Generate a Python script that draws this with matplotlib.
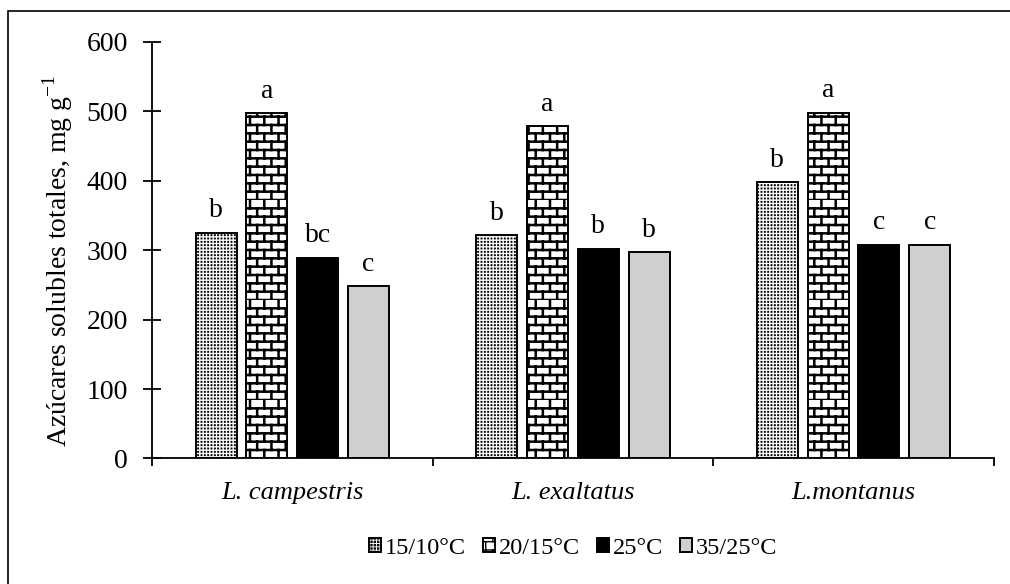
import warnings
import numpy as np
import matplotlib
matplotlib.use("Agg")
import matplotlib.pyplot as plt
import matplotlib.hatch as mhatch
from matplotlib.path import Path
from matplotlib.patches import Rectangle

warnings.filterwarnings("ignore")

# data
species = ["L. campestris", "L. exaltatus", "L.montanus"]
treatments = ["15/10°C", "20/15°C", "25°C", "35/25°C"]
t_15_10 = [325, 322, 398]
t_20_15 = [497, 478, 498]
t_25 = [289, 302, 308]
t_35_25 = [248, 297, 308]
letters_15_10 = ["b", "b", "b"]
letters_20_15 = ["a", "a", "a"]
letters_25 = ["bc", "b", "c"]
letters_35_25 = ["c", "b", "c"]


class BrickHatch(mhatch.HatchPatternBase):
    """Brick wall pattern, triggered by 'B' in the hatch string"""
    rows = 12
    cols = 7

    def __init__(self, hatch, density):
        self.on = hatch.count("B") > 0
        if self.on:
            self.num_lines = self.rows + self.rows * self.cols
        else:
            self.num_lines = 0
        self.num_vertices = self.num_lines * 2

    def set_vertices_and_codes(self, vertices, codes):
        k = 0
        for i in range(self.rows):
            y0 = i / self.rows
            y1 = (i + 1) / self.rows
            vertices[k] = (0.0, y0)
            vertices[k + 1] = (1.0, y0)
            k += 2
            shift = 0.5 * (i % 2)
            for j in range(self.cols):
                x = (j + shift) / self.cols
                vertices[k] = (x, y0)
                vertices[k + 1] = (x, y1)
                k += 2
        codes[0::2] = Path.MOVETO
        codes[1::2] = Path.LINETO


class DotGridHatch(mhatch.HatchPatternBase):
    """Regular grid of small square dots, triggered by 'D'"""
    n = 30
    size = 0.3

    def __init__(self, hatch, density):
        self.on = hatch.count("D") > 0
        self.num_vertices = self.n * self.n * 5 if self.on else 0

    def set_vertices_and_codes(self, vertices, codes):
        s = self.size / self.n
        sq = np.array([[0, 0], [s, 0], [s, s], [0, s], [0, 0]])
        k = 0
        for i in range(self.n):
            for j in range(self.n):
                vertices[k:k + 5] = sq + [(j + 0.3) / self.n, (i + 0.3) / self.n]
                k += 5
        codes[0::5] = Path.MOVETO
        codes[1::5] = Path.LINETO
        codes[2::5] = Path.LINETO
        codes[3::5] = Path.LINETO
        codes[4::5] = Path.CLOSEPOLY


mhatch._hatch_types.append(BrickHatch)
mhatch._hatch_types.append(DotGridHatch)

plt.rcParams["font.family"] = ["Liberation Serif", "DejaVu Serif"]
plt.rcParams["mathtext.fontset"] = "custom"
plt.rcParams["mathtext.rm"] = "Liberation Serif"
plt.rcParams["font.size"] = 20

fig = plt.figure(figsize=(10.1, 5.84), dpi=100)
ax = fig.add_axes([0.1505, 0.2149, 0.8335, 0.7137])

x = np.arange(len(species))
width = 0.146
step = 0.181
series = [t_15_10, t_20_15, t_25, t_35_25]
letters = [letters_15_10, letters_20_15, letters_25, letters_35_25]
faces = ["white", "white", "black", "#d0cece"]
hatches = ["D", "B", None, None]
hatch_lw = [0.65, 1.8, 1.0, 1.0]

for i, (vals, lab, fc, h, hlw) in enumerate(zip(series, treatments, faces, hatches, hatch_lw)):
    pos = x + (i - 1.5) * step
    with plt.rc_context({"hatch.linewidth": hlw, "hatch.color": "black"}):
        bars = ax.bar(pos, vals, width, color=fc, edgecolor="black", linewidth=1.4,
                      hatch=h, label=lab, zorder=2)
        for b in bars:
            if hasattr(b, "set_hatch_linewidth"):
                b.set_hatch_linewidth(hlw)
    for xp, v, t in zip(pos, vals, letters[i]):
        ax.annotate(t, (xp, v), xytext=(0, 11), textcoords="offset points",
                    ha="center", va="baseline", fontsize=20)

ax.set_ylim(0, 600)
ax.set_yticks(range(0, 601, 100))
ax.set_xlim(-0.5, 2.5)
ax.set_xticks([-0.5, 0.5, 1.5, 2.5])
ax.set_xticklabels([])
ax.set_xticks(x, minor=True)
ax.set_xticklabels(species, minor=True, style="italic", fontsize=19)
ax.tick_params(axis="x", which="major", direction="out", length=6, width=1.3)
ax.tick_params(axis="x", which="minor", length=0, pad=17)
ax.tick_params(axis="y", direction="inout", length=13, width=1.3, pad=11)
for side in ["top", "right"]:
    ax.spines[side].set_visible(False)
for side in ["left", "bottom"]:
    ax.spines[side].set_linewidth(1.3)
ax.set_ylabel(r"Azúcares solubles totales, mg g$^{\mathregular{-1}}$", labelpad=8)
ax.yaxis.label.set_y(0.475)

ax.legend(loc="center", bbox_to_anchor=(0.5, -0.215), ncol=4, frameon=False,
          handlelength=0.5, handleheight=0.5, handletextpad=0.15,
          columnspacing=0.7, fontsize=17.5)

# outer frame around the chart
fig.patches.append(Rectangle((0.0079, -0.1), 1.2, 1.0812, transform=fig.transFigure,
                             fill=False, edgecolor="black", linewidth=1.2))

fig.savefig("out.png", dpi=100)
